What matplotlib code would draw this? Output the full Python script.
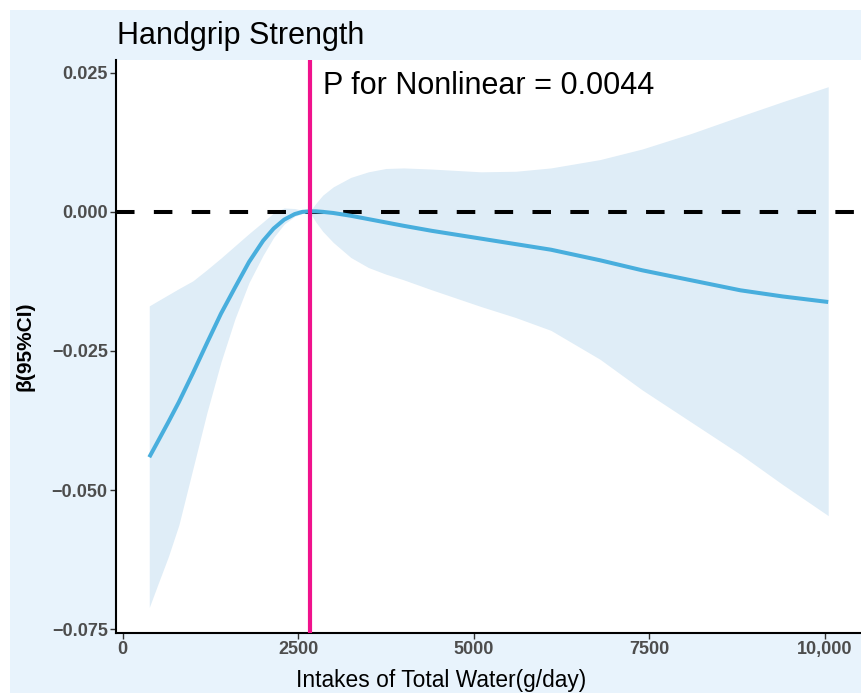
import matplotlib
matplotlib.use("Agg")
import matplotlib.pyplot as plt
from matplotlib.patches import Rectangle
from matplotlib.ticker import FuncFormatter

# values
water = [379, 500, 650, 800, 1000, 1200, 1400, 1600, 1800, 2000, 2150,
         2300, 2450, 2560, 2668, 2750, 2850, 3000, 3250, 3500, 3750, 4000,
         4400, 5100, 5600, 6100, 6800, 7400, 8100, 8800, 9400, 10050]
beta = [-0.0441, -0.0413, -0.0378, -0.0342, -0.0290, -0.0236, -0.0183,
        -0.0136, -0.0090, -0.0052, -0.0030, -0.0014, -0.0004, 0.0000,
        0.0001, 0.0001, 0.0000, -0.0002, -0.0007, -0.0013, -0.0019,
        -0.0025, -0.0034, -0.0048, -0.0058, -0.0068, -0.0087, -0.0105,
        -0.0123, -0.0141, -0.0152, -0.0162]
upper = [-0.0169, -0.0160, -0.0149, -0.0138, -0.0124, -0.0104, -0.0083,
         -0.0061, -0.0039, -0.0018, -0.0002, 0.0007, 0.0006, 0.0003,
         0.0001, 0.0015, 0.0030, 0.0045, 0.0062, 0.0072, 0.0078, 0.0079,
         0.0077, 0.0072, 0.0073, 0.0079, 0.0094, 0.0113, 0.0141, 0.0172,
         0.0198, 0.0225]
lower = [-0.0711, -0.0670, -0.0620, -0.0563, -0.0462, -0.0361, -0.0270,
         -0.0192, -0.0127, -0.0078, -0.0046, -0.0022, -0.0008, -0.0003,
         -0.0001, -0.0018, -0.0035, -0.0055, -0.0082, -0.0100, -0.0112,
         -0.0122, -0.0140, -0.0170, -0.0190, -0.0213, -0.0265, -0.0320,
         -0.0378, -0.0436, -0.0490, -0.0546]
knot = 2668
xticks = [0, 2500, 5000, 7500, 10000]
xticklabels = ["0", "2500", "5000", "7500", "10,000"]
yticks = [-0.075, -0.050, -0.025, 0.000, 0.025]

plt.rcParams["font.family"] = ["Liberation Sans", "DejaVu Sans"]

W, H = 861, 693
fig = plt.figure(figsize=(W / 100, H / 100), dpi=100, facecolor="white")
bg = Rectangle((10 / W, 0), 1 - 10 / W, 1 - 10 / H,
               transform=fig.transFigure, facecolor="#e8f3fc",
               edgecolor="none", zorder=-10)
fig.add_artist(bg)

ax = fig.add_axes([116 / W, (H - 633) / H, 1 - 116 / W, (633 - 60) / H])
ax.set_zorder(1)
ax.set_facecolor("white")

ax.fill_between(water, lower, upper, color="#dfedf7", linewidth=0, zorder=1)
ax.axhline(0, color="black", linewidth=2.9, dashes=(4.6, 4.8), zorder=2)
ax.plot(water, beta, color="#48aedd", linewidth=2.9,
        solid_capstyle="butt", solid_joinstyle="round", zorder=3)
ax.axvline(knot, color="#f0128c", linewidth=3, zorder=4)

ax.text(2850, 0.0211, "P for Nonlinear = 0.0044", fontsize=22,
        ha="left", va="baseline", color="black")

ax.set_xlim(-95, 10517)
ax.set_ylim(-0.0757, 0.0273)
ax.set_xticks(xticks)
ax.set_xticklabels(xticklabels)
ax.set_yticks(yticks)
ax.yaxis.set_major_formatter(
    FuncFormatter(lambda v, p: f"{v:.3f}".replace("-", "\u2212"))
)
ax.tick_params(axis="both", length=4, width=1, color="#333333",
               labelsize=13, labelcolor="#4d4d4d", pad=2)
for lab in ax.get_xticklabels() + ax.get_yticklabels():
    lab.set_fontweight("bold")

for side in ["top", "right"]:
    ax.spines[side].set_visible(False)
for side in ["left", "bottom"]:
    ax.spines[side].set_linewidth(1.5)
    ax.spines[side].set_color("black")

ax.set_xlabel("Intakes of Total Water(g/day)", fontsize=16.4, color="black")
ax.xaxis.label.set_va("baseline")
ax.xaxis.set_label_coords((441 - 116) / (W - 116), -(687 - 633) / (633 - 60))
ax.set_ylabel("\u03b2(95%CI)", fontsize=15, fontweight="bold", color="black")
ax.yaxis.set_label_coords(-(116 - 35) / (W - 116), 0.5)

fig.text(117 / W, 1 - 44 / H, "Handgrip Strength", fontsize=22,
         ha="left", va="baseline", color="black")

fig.savefig("out.png", dpi=100, facecolor=fig.get_facecolor())
